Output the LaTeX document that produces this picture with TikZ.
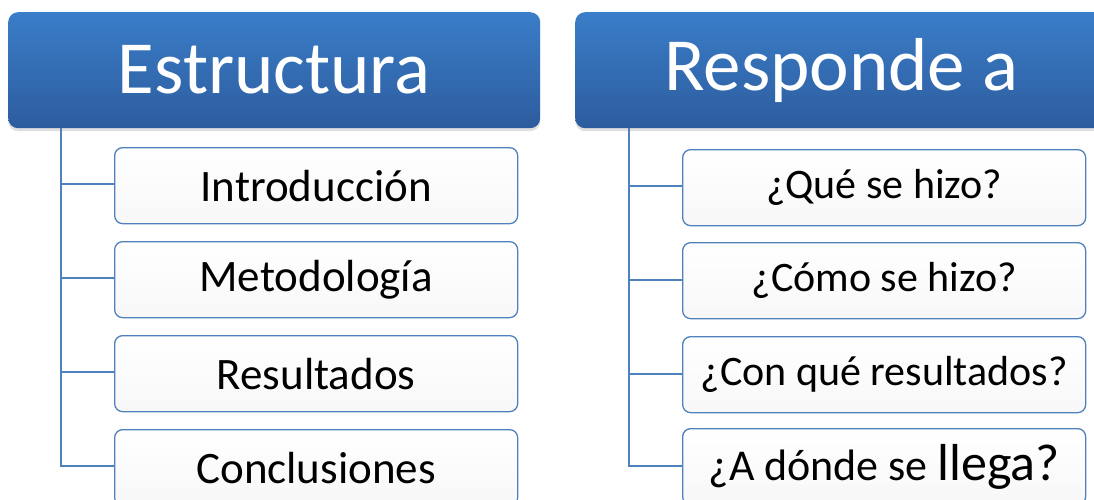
\documentclass[tikz,border=0pt]{standalone}
\usepackage{fontspec}
\setmainfont{Carlito}
\usetikzlibrary{shadows}
\definecolor{headtop}{RGB}{58,125,200}
\definecolor{headbot}{RGB}{45,92,158}
\definecolor{boxline}{RGB}{79,129,189}
\tikzset{
  head/.style={rounded corners=10pt, top color=headtop, bottom color=headbot,
    draw=none, text=white, font=\fontsize{75}{82}\selectfont,
    minimum width=532pt, minimum height=116pt, inner sep=0pt, anchor=north west,
    drop shadow={shadow xshift=0pt, shadow yshift=-3pt, opacity=0.25}},
  item/.style={rounded corners=8pt, top color=white, bottom color=black!3,
    draw=boxline, line width=1.3pt, font=\fontsize{42}{48}\selectfont,
    minimum width=403pt, minimum height=76pt, inner sep=0pt, anchor=north west},
  itemL/.style={item, font=\fontsize{45}{50}\selectfont},
  link/.style={draw=boxline, line width=1.3pt}
}
\begin{document}
\begin{tikzpicture}[x=1pt,y=-1pt]
\useasboundingbox (0,0) rectangle (1094,500);
\clip (0,0) rectangle (1094,500);
% left column
\coordinate (s1) at (61,128);
\draw[link] (s1) |- (160,184);
\draw[link] (s1) |- (160,278);
\draw[link] (s1) |- (160,372);
\draw[link] (s1) |- (160,466);
\node[head] (head1) at (8,12) {Estructura};
\node[itemL] (a1) at (114,147) {Introducción};
\node[itemL] (a2) at (114,241) {Metodología};
\node[itemL] (a3) at (114,335) {Resultados};
\node[itemL] (a4) at (114,429) {Conclusiones};
% right column
\coordinate (s2) at (629,128);
\draw[link] (s2) |- (700,186);
\draw[link] (s2) |- (700,280);
\draw[link] (s2) |- (700,374);
\draw[link] (s2) |- (700,466);
\node[head] (head2) at (575,12) {Responde a};
\node[item] (b1) at (682,149) {¿Qué se hizo?};
\node[item] (b2) at (682,242) {¿Cómo se hizo?};
\node[item] (b3) at (682,336) {¿Con qué resultados?};
\node[item] (b4) at (682,428) {{\fontsize{44}{50}\selectfont ¿A dónde se} {\fontsize{52}{58}\selectfont llega?}};
\end{tikzpicture}
\end{document}
